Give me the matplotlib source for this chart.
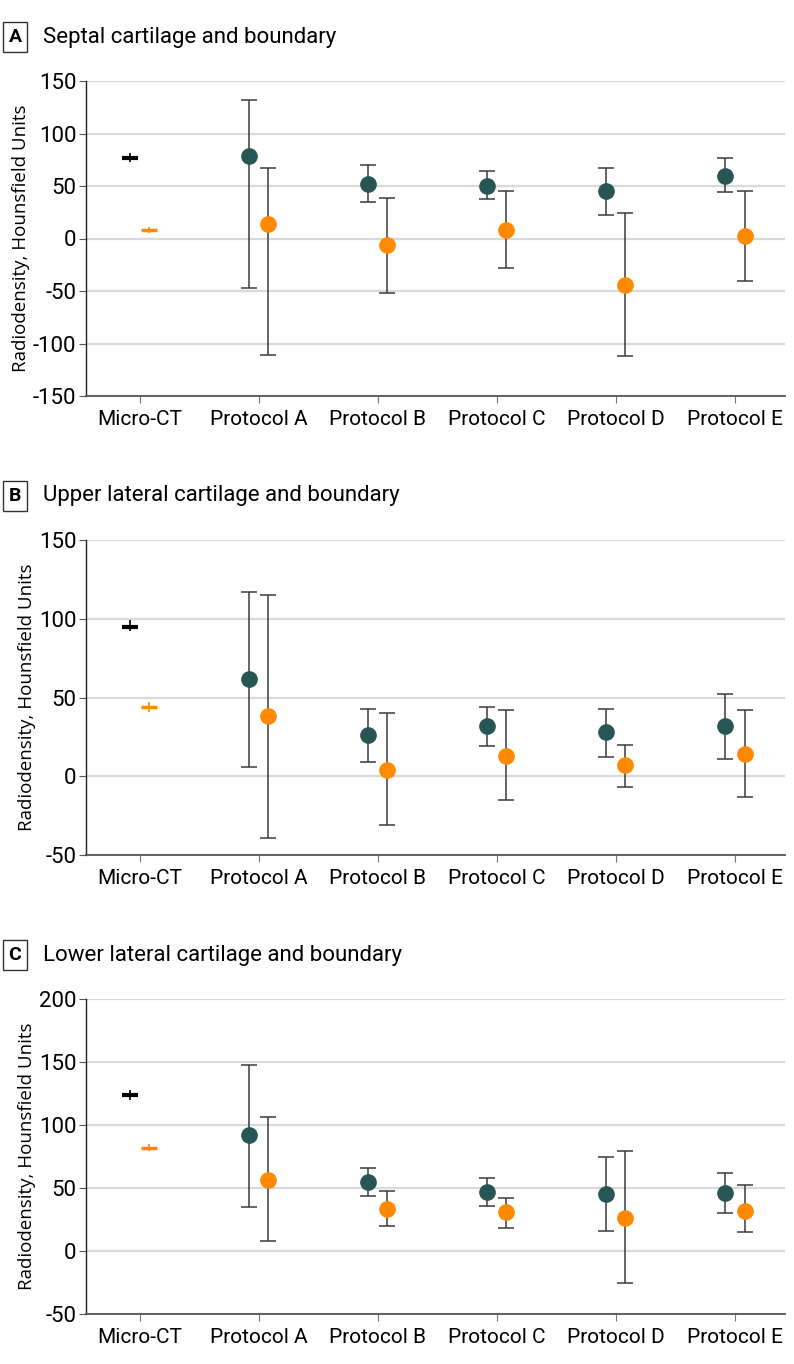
import numpy as np
import matplotlib
matplotlib.use("Agg")
import matplotlib.pyplot as plt

plt.rcParams['axes.unicode_minus'] = False

categories = ['Micro-CT', 'Protocol A', 'Protocol B', 'Protocol C', 'Protocol D', 'Protocol E']

# panel A - septal cartilage
a_cart = [77, 79, 52, 50, 45, 60]
a_cart_lo = [73, -47, 35, 38, 22, 44]
a_cart_hi = [81, 132, 70, 64, 67, 77]
a_bound = [8, 14, -6, 8, -44, 2]
a_bound_lo = [5, -111, -52, -28, -112, -40]
a_bound_hi = [11, 67, 39, 45, 24, 45]

# panel B - upper lateral cartilage
b_cart = [95, 62, 26, 32, 28, 32]
b_cart_lo = [92, 6, 9, 19, 12, 11]
b_cart_hi = [99, 117, 43, 44, 43, 52]
b_bound = [44, 38, 4, 13, 7, 14]
b_bound_lo = [41, -39, -31, -15, -7, -13]
b_bound_hi = [47, 115, 40, 42, 20, 42]

# panel C - lower lateral cartilage
c_cart = [124, 92, 55, 47, 45, 46]
c_cart_lo = [120, 35, 44, 36, 16, 30]
c_cart_hi = [128, 148, 66, 58, 75, 62]
c_bound = [82, 56, 33, 31, 26, 32]
c_bound_lo = [79, 8, 20, 18, -25, 15]
c_bound_hi = [85, 106, 48, 42, 79, 52]

panels = [
    ('A', 'Septal cartilage and boundary', a_cart, a_cart_lo, a_cart_hi,
     a_bound, a_bound_lo, a_bound_hi, (-150, 150), np.arange(-150, 151, 50)),
    ('B', 'Upper lateral cartilage and boundary', b_cart, b_cart_lo, b_cart_hi,
     b_bound, b_bound_lo, b_bound_hi, (-50, 150), np.arange(-50, 151, 50)),
    ('C', 'Lower lateral cartilage and boundary', c_cart, c_cart_lo, c_cart_hi,
     c_bound, c_bound_lo, c_bound_hi, (-50, 200), np.arange(-50, 201, 50)),
]

DARK = '#275654'
ORANGE = '#ff8a00'
ERR = '#3a3a3a'
narrow = ['Roboto', 'DejaVu Sans']

W, H = 794, 1364
fig = plt.figure(figsize=(W / 100, H / 100), dpi=100)

tops = [81, 540, 999]
x = np.arange(len(categories))
off = 0.08

for (lab, title, cv, clo, chi, bv, blo, bhi, ylim, yt), top in zip(panels, tops):
    ax = fig.add_axes([86 / W, 1 - (top + 315) / H, 699 / W, 315 / H])
    ax.set_xlim(-0.45, 5.42)
    ax.set_ylim(*ylim)
    ax.set_yticks(yt)
    ax.yaxis.grid(True, color='#d9d9d9', lw=1.6)
    ax.set_axisbelow(True)
    for s in ['top', 'right']:
        ax.spines[s].set_visible(False)
    ax.spines['left'].set_color('#222222')
    ax.spines['bottom'].set_color('#555555')
    ax.spines['left'].set_linewidth(1.0)
    ax.spines['bottom'].set_linewidth(1.3)

    cv, clo, chi = map(np.array, (cv, clo, chi))
    bv, blo, bhi = map(np.array, (bv, blo, bhi))

    # micro-CT reference values
    ax.errorbar(x[0] - off, cv[0], yerr=[[cv[0] - clo[0]], [chi[0] - cv[0]]],
                fmt='_', color='black', ms=12, mew=3, elinewidth=1.2, capsize=0)
    ax.errorbar(x[0] + off, bv[0], yerr=[[bv[0] - blo[0]], [bhi[0] - bv[0]]],
                fmt='_', color=ORANGE, ms=12, mew=2.5, elinewidth=1.2, capsize=0)

    # protocols
    ax.errorbar(x[1:] - off, cv[1:], yerr=[cv[1:] - clo[1:], chi[1:] - cv[1:]],
                fmt='o', color=DARK, ms=11, ecolor=ERR, elinewidth=1.1,
                capsize=6, capthick=1.1, zorder=3)
    ax.errorbar(x[1:] + off, bv[1:], yerr=[bv[1:] - blo[1:], bhi[1:] - bv[1:]],
                fmt='o', color=ORANGE, ms=11, ecolor=ERR, elinewidth=1.1,
                capsize=6, capthick=1.1, zorder=3)

    ax.set_xticks(x)
    ax.set_xticklabels(categories, family=narrow, fontsize=15)
    ax.tick_params(axis='x', length=5, color='#777777', pad=5)
    ax.tick_params(axis='y', length=5, color='#555555', pad=2)
    for t in ax.get_yticklabels():
        t.set_family(narrow)
        t.set_fontsize(16)
    ax.set_ylabel('Radiodensity, Hounsfield Units', family=['Open Sans', 'DejaVu Sans'],
                  fontsize=13.5, labelpad=2)

    ty = 1 - (top - 44) / H
    fig.text(15 / W, ty, lab, ha='center', va='center', family=narrow,
             fontsize=14, fontweight='bold',
             bbox=dict(boxstyle='square,pad=0.3', fc='white', ec='#333333', lw=1.0))
    fig.text(43 / W, ty, title, ha='left', va='center', family=narrow, fontsize=16)

fig.savefig('out.png', dpi=100)
